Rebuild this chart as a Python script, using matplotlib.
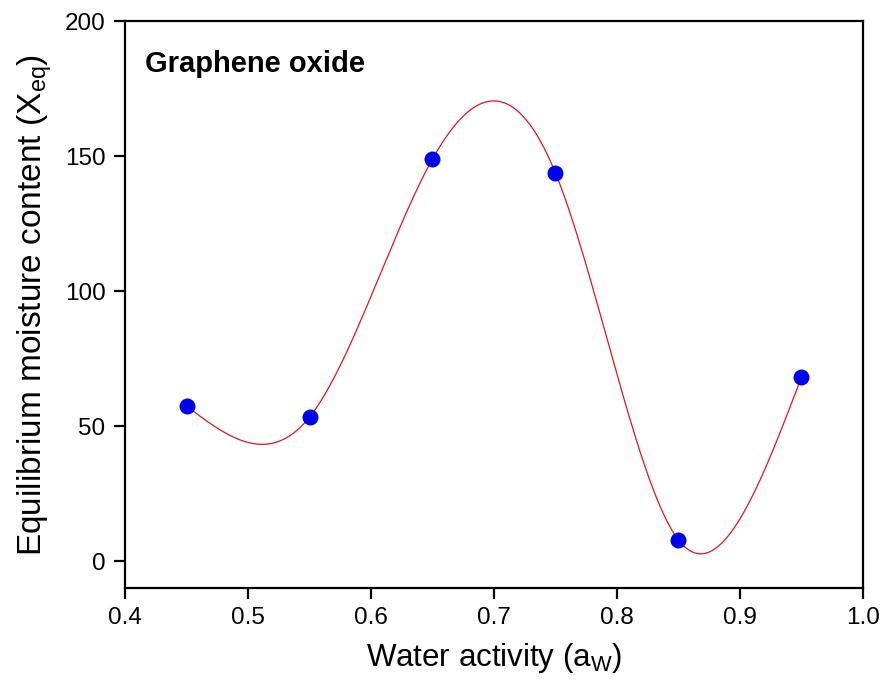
import numpy as np
import matplotlib.pyplot as plt

plt.rcParams['font.family'] = ['Liberation Sans', 'DejaVu Sans']
plt.rcParams['mathtext.fontset'] = 'custom'
plt.rcParams['mathtext.rm'] = 'Liberation Sans'
plt.rcParams['mathtext.it'] = 'Liberation Sans:italic'

# Data
water_activity = [0.45, 0.55, 0.65, 0.75, 0.85, 0.95]
moisture = [57.4, 53.3, 148.9, 143.7, 7.8, 68.1]


def natural_spline(x, y, n=400):
    # natural cubic spline through the points (the fitted curve)
    x = np.asarray(x, float)
    y = np.asarray(y, float)
    k = len(x)
    h = np.diff(x)
    A = np.zeros((k, k))
    b = np.zeros(k)
    A[0, 0] = A[-1, -1] = 1
    for i in range(1, k - 1):
        A[i, i - 1] = h[i - 1]
        A[i, i] = 2 * (h[i - 1] + h[i])
        A[i, i + 1] = h[i]
        b[i] = 6 * ((y[i + 1] - y[i]) / h[i] - (y[i] - y[i - 1]) / h[i - 1])
    M = np.linalg.solve(A, b)
    xs = np.linspace(x[0], x[-1], n)
    idx = np.clip(np.searchsorted(x, xs) - 1, 0, k - 2)
    x0, x1 = x[idx], x[idx + 1]
    hi = h[idx]
    ys = (M[idx] * (x1 - xs) ** 3 / (6 * hi) + M[idx + 1] * (xs - x0) ** 3 / (6 * hi)
          + (y[idx] / hi - M[idx] * hi / 6) * (x1 - xs)
          + (y[idx + 1] / hi - M[idx + 1] * hi / 6) * (xs - x0))
    return xs, ys


fig = plt.figure(figsize=(8.86, 6.82), dpi=100)
ax = fig.add_axes([0.1411, 0.1378, 0.8329, 0.8314])

xs, ys = natural_spline(water_activity, moisture)
ax.plot(xs, ys, color='#e8141b', linewidth=0.9, zorder=2)
ax.plot(water_activity, moisture, 'o', color='#0000f0', markersize=11.5,
        markeredgewidth=0, zorder=3)

ax.set_xlim(0.4, 1.0)
ax.set_ylim(-10, 200)
ax.set_xticks([0.4, 0.5, 0.6, 0.7, 0.8, 0.9, 1.0])
ax.set_xticklabels(['0.4', '0.5', '0.6', '0.7', '0.8', '0.9', '1.0'])
ax.set_yticks([0, 50, 100, 150, 200])

for s in ax.spines.values():
    s.set_linewidth(1.6)
ax.tick_params(direction='out', length=8, width=1.6, labelsize=17.5, pad=6)

ax.set_xlabel(r'Water activity ($\mathregular{a_W}$)', fontsize=22.5, labelpad=8)
ax.set_ylabel(r'Equilibrium moisture content ($\mathregular{X_{eq}}$)',
              fontsize=24, labelpad=8)

ax.text(0.027, 0.925, 'Graphene oxide', transform=ax.transAxes,
        fontsize=21, fontweight='bold', ha='left', va='center')

fig.savefig('out.png', dpi=100)
